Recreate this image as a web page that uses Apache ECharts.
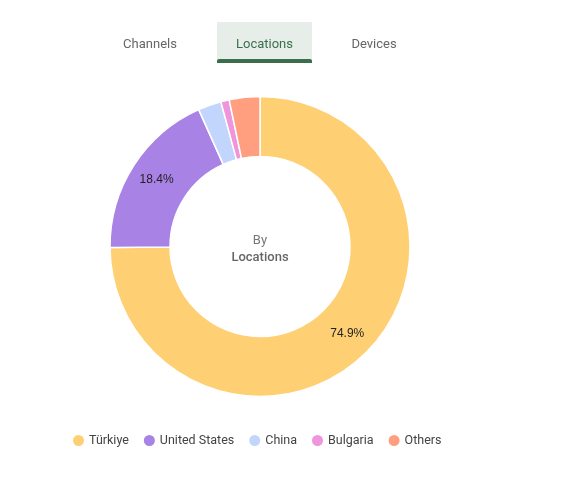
<!DOCTYPE html>
<html>
<head>
<meta charset="utf-8">
<script src="https://cdn.jsdelivr.net/npm/echarts@6/dist/echarts.min.js"></script>
<style>
html,body{margin:0;padding:0;background:#fff;}
#chart{width:562px;height:484px;}
</style>
</head>
<body>
<div id="chart"></div>
<script>
const categories = ['Türkiye', 'United States', 'China', 'Bulgaria', 'Others'];
const shares = [74.9, 18.4, 2.5, 0.9, 3.3];
const tabs = ['Channels', 'Locations', 'Devices'];
const activeTab = 'Locations';
const centerLines = ['By', 'Locations'];
const colors = ['#FFCF74', '#A982E6', '#C2D5FD', '#F095DC', '#FF9F7F'];

const chart = echarts.init(document.getElementById('chart'), null, {renderer: 'canvas'});
const tabCenters = [150, 264.5, 374];
const graphics = [];
tabs.forEach((t, i) => {
  const active = t === activeTab;
  if (active) {
    graphics.push({type: 'rect', shape: {x: 217, y: 22, width: 95, height: 40}, style: {fill: '#E7EEEA'}, z: 1});
    graphics.push({type: 'rect', shape: {x: 217, y: 59, width: 95, height: 4, r: [2, 2, 0, 0]}, style: {fill: '#3B6E4C'}, z: 2});
  }
  graphics.push({
    type: 'text', x: tabCenters[i], y: 44.5, z: 3,
    style: {text: t, fill: active ? '#3B6E4C' : '#666666', font: '13px Roboto', textAlign: 'center', textVerticalAlign: 'middle'}
  });
});
graphics.push({type: 'text', x: 260, y: 240.5, z: 3, style: {text: centerLines[0], fill: '#777777', font: '13px Roboto', textAlign: 'center', textVerticalAlign: 'middle'}});
graphics.push({type: 'text', x: 260, y: 257.5, z: 3, style: {text: centerLines[1], fill: '#666666', font: '500 13px Roboto', textAlign: 'center', textVerticalAlign: 'middle'}});

chart.setOption({
  animation: false,
  color: colors,
  graphic: graphics,
  legend: {
    data: categories,
    left: 66,
    top: 428,
    icon: 'circle',
    itemWidth: 13,
    itemHeight: 13,
    itemGap: 13,
    textStyle: {color: '#444444', fontSize: 12.5, fontFamily: 'Roboto', padding: [0, 0, 0, -1]}
  },
  series: [{
    type: 'pie',
    center: [260, 246.5],
    radius: [90, 150],
    startAngle: 90,
    clockwise: true,
    avoidLabelOverlap: false,
    itemStyle: {borderColor: '#ffffff', borderWidth: 1.5},
    label: {
      show: true,
      position: 'inside',
      color: '#222222',
      fontSize: 12,
      fontFamily: 'Liberation Sans, Arial',
      formatter: p => p.percent >= 5 ? p.percent.toFixed(1) + '%' : ''
    },
    labelLine: {show: false},
    emphasis: {disabled: true},
    data: categories.map((c, i) => ({name: c, value: shares[i]}))
  }]
});
</script>
</body>
</html>
